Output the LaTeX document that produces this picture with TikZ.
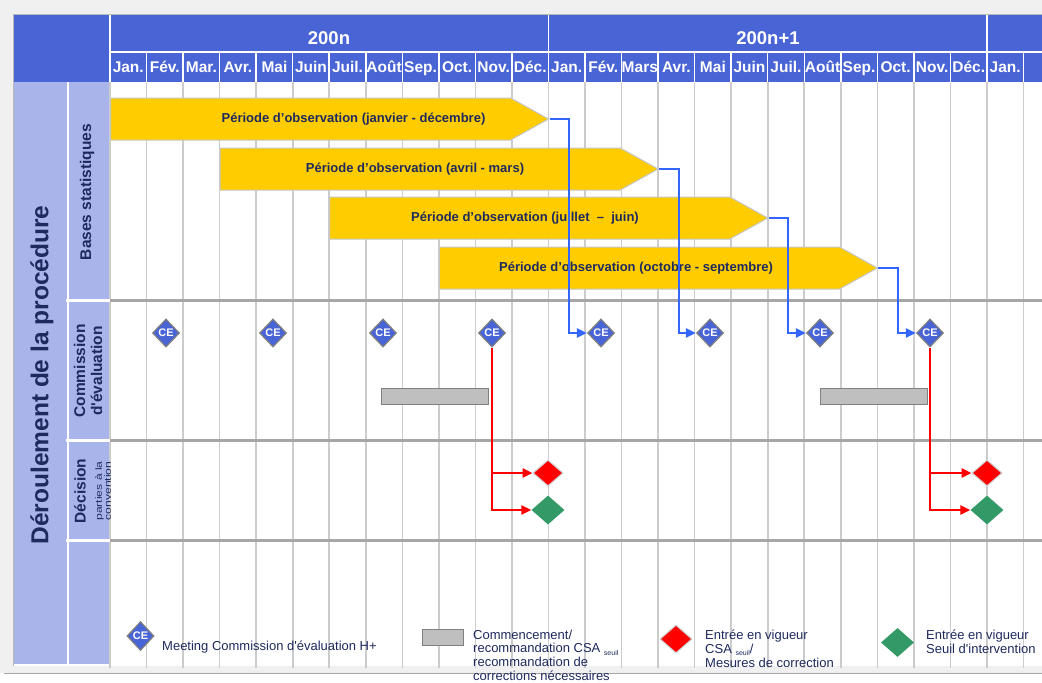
\documentclass[tikz,border=0pt]{standalone}
\usepackage{fontspec}
\setmainfont{Liberation Sans}
\newfontfamily\widefont[FakeStretch=1.35]{Liberation Sans}
\usetikzlibrary{shapes.geometric, shapes.symbols, arrows.meta}
\definecolor{hdrblue}{RGB}{73,100,212}
\definecolor{lavender}{RGB}{169,180,235}
\definecolor{navy}{RGB}{30,42,94}
\definecolor{obsyellow}{RGB}{255,204,0}
\definecolor{linkblue}{RGB}{51,102,255}
\definecolor{csagreen}{RGB}{51,153,102}
\newcommand{\fsz}[1]{\fontsize{#1}{#1}\selectfont}
\newcommand{\seuil}{{\fontsize{7}{8}\selectfont\raisebox{-2.5pt}{seuil}}}

\begin{document}
\begin{tikzpicture}[yscale=-1, x=1pt, y=1pt, >={Triangle[length=10pt, width=9pt]},
    monthlabel/.style={text=white, font=\fsz{15.5}\bfseries, inner sep=0pt, anchor=base},
    yearlabel/.style={text=white, font=\fsz{18.5}\bfseries, inner sep=0pt, anchor=base},
    monthline/.style={draw=gray!40, line width=1.6pt},
    rowline/.style={draw=gray!70, line width=3pt},
    obs/.style={signal, signal to=east, signal pointer angle=58, fill=obsyellow, draw=gray!45, line width=1pt, minimum width=438, minimum height=42, inner sep=0pt, anchor=west},
    obstext/.style={text=navy, font=\fsz{13}\bfseries},
    ce/.style={diamond, fill=hdrblue, draw=gray, line width=1.2pt, minimum width=27, minimum height=28, inner sep=0pt, text=white, font=\fsz{11}\bfseries},
    csabar/.style={fill=gray!50, draw=gray, line width=1pt, minimum width=107, minimum height=16, inner sep=0pt},
    entry/.style={diamond, fill=red, draw=gray!40, line width=1pt, minimum width=30, minimum height=26, inner sep=0pt},
    seuilmark/.style={diamond, fill=csagreen, minimum width=33, minimum height=29, inner sep=0pt},
    sidelabel/.style={text=navy, font=\fsz{15.5}\bfseries, rotate=90, align=center, inner sep=0pt},
    legendtext/.style={text=navy, font=\fontsize{13}{13.7}\selectfont, align=left, inner sep=0pt},
    bluelink/.style={->, draw=linkblue, line width=2.2pt},
    redlink/.style={->, draw=red, line width=2.6pt}]

    % frame
    \useasboundingbox (0,0) rectangle (1042,683);
    \fill[gray!12] (0,0) rectangle (1042,673);
    \draw[gray!70, line width=1pt] (4,673.5) -- (1042,673.5);
    \fill[white] (14,15) rectangle (1042,666);
    \draw[gray!55, line width=1pt] (13.5,666) -- (13.5,14.5) -- (1042,14.5);

    % header and side column
    \fill[hdrblue] (14,15) rectangle (1042,82);
    \fill[lavender] (14,82) rectangle (110,664);
    \foreach \i in {0,...,25}
        \draw[monthline] ({110+\i*36.54},82) -- ({110+\i*36.54},668);
    \draw[white, line width=1.5pt] (110,52) -- (1042,52);
    \foreach \x in {110,548.5,987}
        \draw[white, line width=1.5pt] (\x,15) -- (\x,82);
    \foreach \i in {1,...,25}
        \draw[white, line width=1.5pt] ({110+\i*36.54},52) -- ({110+\i*36.54},82);
    \draw[white, line width=1.5pt] (68,82) -- (68,664);
    \foreach \y in {300,440,540} {
        \draw[rowline] (110,\y) -- (1042,\y);
        \draw[white, line width=3pt] (66,\y) -- (110,\y);
    }

    \node[yearlabel] (y1) at (329,44) {200n};
    \node[yearlabel] (y2) at (768,44) {200n+1};
    \foreach \m [count=\i] in {Jan.,Fév.,Mar.,Avr.,Mai,Juin,Juil.,Août,Sep.,Oct.,Nov.,Déc.,Jan.,Fév.,Mars,Avr.,Mai,Juin,Juil.,Août,Sep.,Oct.,Nov.,Déc.,Jan.}
        \node[monthlabel] (m\i) at ({110+(\i-0.5)*36.54},72.5) {\m};

    \node[sidelabel, font=\fsz{24.5}\bfseries] (proc) at (42,375) {Déroulement de la procédure};
    \node[sidelabel] (bases) at (87,192) {Bases statistiques};
    \node[sidelabel, font=\fontsize{15.5}{17}\selectfont\bfseries] (comm) at (88,371) {Commission\\d\textquotesingle évaluation};
    \node[sidelabel] (dec) at (80,491) {Décision};
    \node[sidelabel, font=\widefont\fontsize{9}{9}\selectfont] (parties) at (103,491) {parties à la\\convention};

    % observation periods
    \node[obs] (obs1) at (110,119) {};
    \node[obs] (obs2) at (219.6,169) {};
    \node[obs] (obs3) at (329.2,218) {};
    \node[obs] (obs4) at (438.8,268) {};
    \node[obstext] (t1) at (353.5,119) {Période d’observation (janvier - décembre)};
    \node[obstext] (t2) at (415,169) {Période d’observation (avril - mars)};
    \node[obstext] (t3) at (525,218) {Période d’observation (juillet~~–~~juin)};
    \node[obstext] (t4) at (636,268) {Période d’observation (octobre - septembre)};

    % commission, decisions
    \foreach \x [count=\i] in {166,273,383,492,601,710,820,930}
        \node[ce] (ce\i) at (\x,333) {CE};
    \node[csabar] (bar1) at (434.5,396) {};
    \node[csabar] (bar2) at (873.5,396) {};
    \node[entry] (entry1) at (548,473) {};
    \node[seuilmark] (mark1) at (548,510) {};
    \node[entry] (entry2) at (987,473) {};
    \node[seuilmark] (mark2) at (987,510) {};

    \draw[bluelink] (obs1.east) -- ++(19.5,0) |- (ce5);
    \draw[bluelink] (obs2.east) -- ++(19.5,0) |- (ce6);
    \draw[bluelink] (obs3.east) -- ++(19.5,0) |- (ce7);
    \draw[bluelink] (obs4.east) -- ++(19.5,0) |- (ce8);
    \draw[redlink] (ce4) |- (entry1);
    \draw[redlink] (ce4) |- (mark1);
    \draw[redlink] (ce8) |- (entry2);
    \draw[redlink] (ce8) |- (mark2);

    % legend
    \node[ce, minimum height=29] (lgce) at (140.5,636) {CE};
    \node[legendtext, anchor=west] (lgcetxt) at (162,647.5) {Meeting Commission d\textquotesingle évaluation H+};
    \node[csabar, minimum width=41] (lgbar) at (442.5,637) {};
    \node[legendtext, anchor=north west] (lgbartxt) at (473,629.5) {Commencement/\\recommandation CSA \seuil\\recommandation de\\corrections nécessaires};
    \node[entry, minimum width=32, minimum height=28] (lgentry) at (676,639) {};
    \node[legendtext, anchor=north west] (lgentrytxt) at (705,630) {Entrée en vigueur\\CSA \seuil/\\Mesures de correction};
    \node[seuilmark] (lgmark) at (897.5,642.5) {};
    \node[legendtext, anchor=north west] (lgmarktxt) at (926,630) {Entrée en vigueur\\Seuil d\textquotesingle intervention};
\end{tikzpicture}
\end{document}
